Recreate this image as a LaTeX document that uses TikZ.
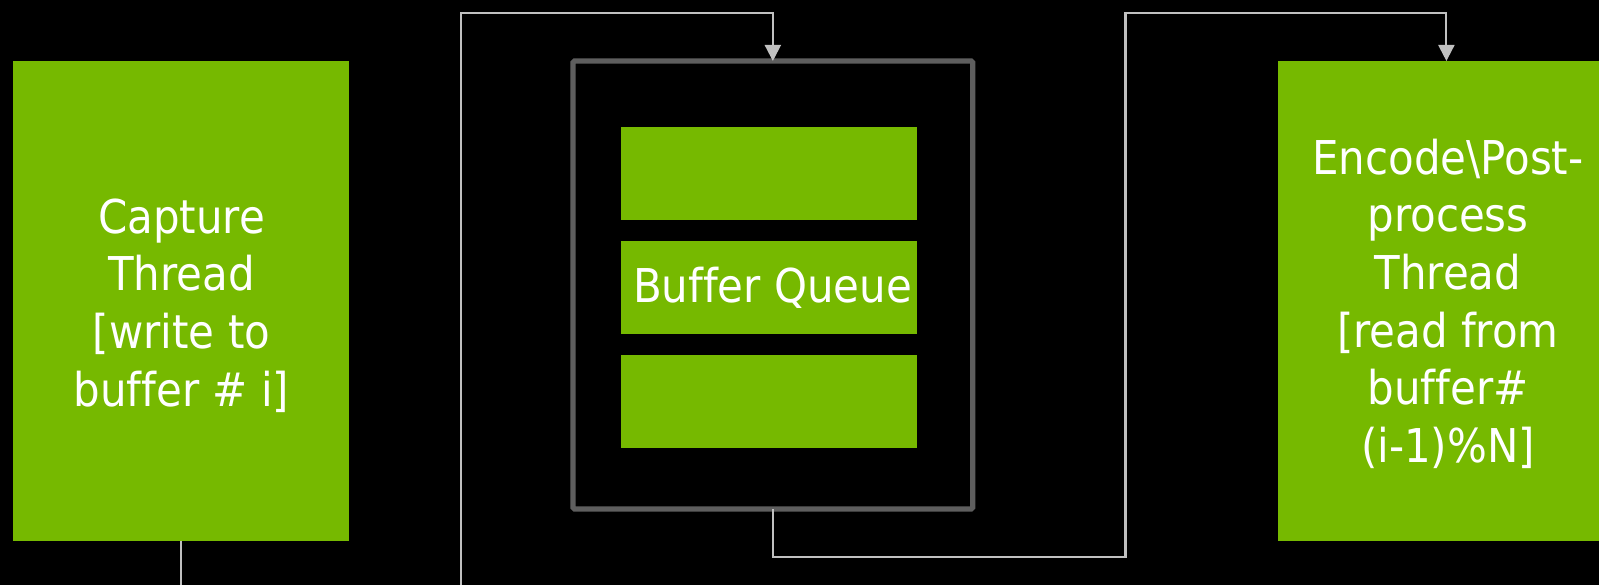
\documentclass[tikz,border=0pt]{standalone}
\usepackage{fontspec}
\setmainfont[Ligatures=NoCommon]{DejaVu Sans Condensed}
\usetikzlibrary{arrows.meta}
\definecolor{nvgreen}{HTML}{76B900}
\definecolor{wirecol}{HTML}{C0C0C0}
\definecolor{framecol}{HTML}{5E5E5E}
\begin{document}
\begin{tikzpicture}[x=1pt,y=-1pt,
  greenbox/.style={rectangle, fill=nvgreen, inner sep=0pt, outer sep=0pt},
  boxtext/.style={text=white, align=center, inner sep=0pt,
    font=\fontsize{46.6pt}{57.7pt}\selectfont},
  wire/.style={draw=wirecol, line width=2.1pt},
  feed/.style={wire, -{Triangle[length=16pt,width=16pt]}},
  queue/.style={rectangle, draw=framecol, line width=5.2pt,
    rounded corners=1.5pt, inner sep=0pt, outer sep=0pt}]

% canvas
\useasboundingbox (0,0) rectangle (1599,585);
\fill[black] (0,0) rectangle (1599,585);
\clip (0,0) rectangle (1599,585);

% thread blocks
\node[greenbox, minimum width=335.5pt, minimum height=479.5pt] (cap) at (181.05,300.75) {};
\node[greenbox, minimum width=337.6pt, minimum height=479.5pt] (enc) at (1446.4,300.75) {};

% buffer queue with its three slots
\node[queue, minimum width=399.7pt, minimum height=448pt] (bq) at (772.85,285) {};
\node[greenbox, minimum width=296pt, minimum height=92.7pt] (b1) at (769,173.35) {};
\node[greenbox, minimum width=296pt, minimum height=92.7pt] (b2) at (769,287.35) {};
\node[greenbox, minimum width=296pt, minimum height=92.7pt] (b3) at (769,401.35) {};

% texts
\node[boxtext] (capText) at (181.5,305.4)
  {Capture\\Thread\\{[}write to\\buffer \# i{]}};
\node[boxtext] (encText) at (1448,303.8)
  {Encode\textbackslash Post-\\process\\Thread\\{[}read from\\buffer\#\\(i-1)\%N{]}};
\node[boxtext, anchor=base] (bqText) at (772.5,302.7) {Buffer Queue};

% connectors
\coordinate (capOut) at (181.05,600);
\coordinate (loopIn) at (460.7,600);
\coordinate (rail) at (0,13);
\coordinate (lowRail) at (1125.5,557);

\draw[wire] (cap.south) -- (capOut);
\draw[feed] (loopIn) |- (bq.north |- rail) -- (bq.north);
\draw[feed] (bq.south) |- (lowRail) |- (enc.north |- rail) -- (enc.north);
\end{tikzpicture}
\end{document}
